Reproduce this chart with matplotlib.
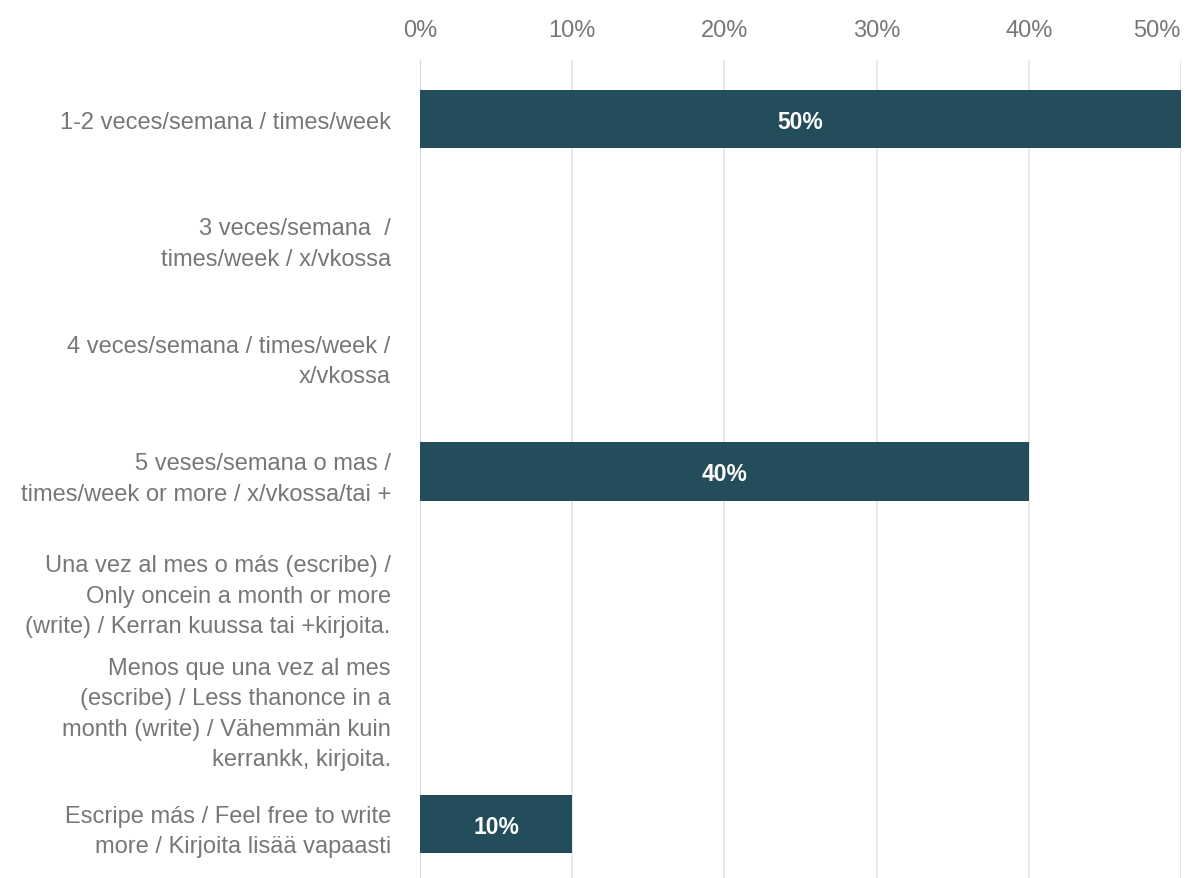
import matplotlib
matplotlib.use("Agg")
import matplotlib.pyplot as plt
from matplotlib.ticker import FuncFormatter

plt.rcParams['font.family'] = ['Liberation Sans', 'DejaVu Sans']

# data
categories = [
    "1-2 veces/semana / times/week",
    "3 veces/semana  /\ntimes/week / x/vkossa",
    "4 veces/semana / times/week /\nx/vkossa",
    "5 veses/semana o mas /\ntimes/week or more / x/vkossa/tai +",
    "Una vez al mes o más (escribe) /\nOnly oncein a month or more\n(write) / Kerran kuussa tai +kirjoita.",
    "Menos que una vez al mes\n(escribe) / Less thanonce in a\nmonth (write) / Vähemmän kuin\nkerrankk, kirjoita.",
    "Escripe más / Feel free to write\nmore / Kirjoita lisää vapaasti",
]
values = [50, 0, 0, 40, 0, 0, 10]
xticks = [0, 10, 20, 30, 40, 50]

bar_color = '#234d5a'
text_color = '#777777'

fig = plt.figure(figsize=(11.85, 8.79), dpi=100)
ax = fig.add_axes([0.3544, -0.0055, 0.6422, 0.9358])

ypos = list(range(len(categories)))
ax.barh(ypos, values, height=0.5, color=bar_color, zorder=3)
for y, v in zip(ypos, values):
    if v > 0:
        ax.text(v / 2, y + 0.02, f"{v}%", color='white', fontsize=16.5, fontweight='bold',
                ha='center', va='center', zorder=4)

ax.set_xlim(0, 50)
ax.set_ylim(len(categories) - 0.5, -0.5)
ax.set_xticks(xticks)
ax.xaxis.set_major_formatter(FuncFormatter(lambda x, p: f"{int(x)}%"))
ax.xaxis.tick_top()
ax.tick_params(axis='x', length=0, pad=14, labelsize=17, labelcolor=text_color)
# last tick label kept inside the picture
ax.get_xticklabels()[-1].set_horizontalalignment('right')
ax.set_yticks(ypos)
ax.set_yticklabels(categories, linespacing=1.5)
ax.tick_params(axis='y', length=0, pad=21, labelsize=17, labelcolor=text_color)

for x in xticks[1:]:
    ax.axvline(x, color='#e4e4e4', lw=1.2, zorder=1)
ax.axvline(0, color='#cfd8ea', lw=1.5, zorder=2)

for s in ax.spines.values():
    s.set_visible(False)

fig.savefig("out.png", dpi=100)
